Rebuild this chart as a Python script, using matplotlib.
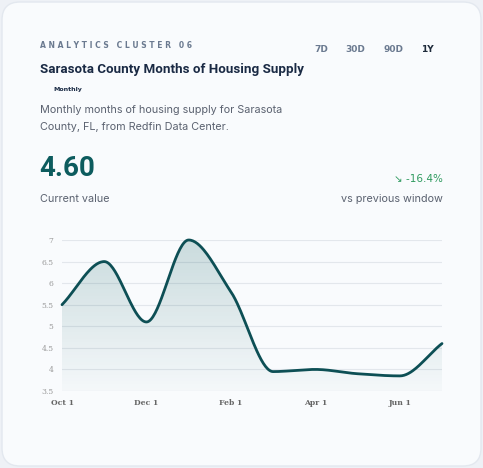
import numpy as np
import matplotlib
matplotlib.use("Agg")
import matplotlib.pyplot as plt
from matplotlib.patches import FancyBboxPatch
from matplotlib.colors import LinearSegmentedColormap

months = ["Oct", "Nov", "Dec", "Jan", "Feb", "Mar", "Apr", "May", "Jun", "Jul"]
values = [5.5, 6.5, 5.1, 7.0, 5.8, 3.95, 4.0, 3.9, 3.85, 4.6]
tick_pos = [0, 2, 4, 6, 8]
tick_labels = ["Oct 1", "Dec 1", "Feb 1", "Apr 1", "Jun 1"]
y_ticks = [3.5, 4, 4.5, 5, 5.5, 6, 6.5, 7]

W, H = 483, 468
fig = plt.figure(figsize=(W/100, H/100), dpi=100)
fig.patch.set_facecolor("#eef1f6")
bg = fig.add_axes([0, 0, 1, 1]); bg.set_xlim(0, W); bg.set_ylim(H, 0); bg.axis("off")
bg.add_patch(FancyBboxPatch((2, 2), W-4, H-4, boxstyle="round,pad=0,rounding_size=18",
                            fc="#f9fbfd", ec="#e3e8ef", lw=1))

def T(x, y, s, **kw):
    bg.text(x, y, s, va="center", **kw)

T(40, 45, "A N A L Y T I C S   C L U S T E R   0 6", fontsize=5.5, color="#6b7a90", fontweight="bold", family="DejaVu Sans")
for x, s, c in [(321, "7D", "#6b7a90"), (355, "30D", "#6b7a90"), (393, "90D", "#6b7a90"), (427, "1Y", "#1e2a3a")]:
    T(x, 50, s, fontsize=6.5, color=c, fontweight="bold", ha="center")
T(40, 69, "Sarasota County Months of Housing Supply", fontsize=9.6, color="#1a2a44", fontweight="bold", family="Roboto")
T(53, 89, "Monthly", fontsize=4.5, color="#1a2a44", fontweight="bold")
T(40, 110, "Monthly months of housing supply for Sarasota", fontsize=7.8, color="#5b6270", family="Inter")
T(40, 127, "County, FL, from Redfin Data Center.", fontsize=7.8, color="#5b6270", family="Inter")
T(39, 169, "4.60", fontsize=20, color="#0d5c5e", fontweight="bold", family="Roboto")
T(443, 179, "↘ -16.4%", fontsize=7.5, color="#2e9a5e", ha="right", family="DejaVu Sans")
T(40, 199, "Current value", fontsize=7.8, color="#5b6270", family="Inter")
T(443, 199, "vs previous window", fontsize=7.8, color="#5b6270", ha="right", family="Inter")

x0, x1 = 62, 442
y35, y7 = 391, 240
ax = fig.add_axes([x0/W, 1 - y35/H, (x1-x0)/W, (y35-y7)/H])
ax.patch.set_alpha(0)
n = len(values)
ys = np.array(values)
d = np.diff(ys)
m = np.zeros(n)
m[0], m[-1] = d[0], d[-1]
for i in range(1, n-1):
    m[i] = 0 if d[i-1]*d[i] <= 0 else 2/(1/d[i-1] + 1/d[i])
xf, yf = [], []
for i in range(n-1):
    t = np.linspace(0, 1, 40)
    h00 = 2*t**3-3*t**2+1; h10 = t**3-2*t**2+t; h01 = -2*t**3+3*t**2; h11 = t**3-t**2
    xf.extend(i+t); yf.extend(h00*ys[i]+h10*m[i]+h01*ys[i+1]+h11*m[i+1])
xf, yf = np.array(xf), np.array(yf)
for yt in y_ticks:
    ax.axhline(yt, color="#e3e7ec", lw=0.8, zorder=0)
grad = np.linspace(0, 1, 256).reshape(-1, 1)
cm = LinearSegmentedColormap.from_list("g", [(0.05, 0.36, 0.37, 0.02), (0.05, 0.36, 0.37, 0.2)])
im = ax.imshow(grad, extent=[0, n-1, 3.5, 7.0], origin="lower", aspect="auto", cmap=cm, zorder=1)
poly = ax.fill_between(xf, 3.5, yf, color="none")
im.set_clip_path(poly.get_paths()[0], transform=ax.transData)
ax.plot(xf, yf, color="#0d4f55", lw=2, zorder=3, solid_capstyle="round", clip_on=False)
ax.set_xlim(0, n-1); ax.set_ylim(3.5, 7.0)
ax.set_xticks(tick_pos, tick_labels)
ax.set_yticks(y_ticks, [f"{v:g}" for v in y_ticks])
for s in ax.spines.values(): s.set_visible(False)
ax.tick_params(length=0, labelsize=5.5, colors="#777777", pad=6)
for lab in ax.get_xticklabels(): lab.set_family("DejaVu Serif"); lab.set_fontweight("bold"); lab.set_color("#666666")
for lab in ax.get_yticklabels(): lab.set_family("DejaVu Serif"); lab.set_color("#999999")
fig.savefig("out.png", dpi=100, facecolor=fig.get_facecolor())
